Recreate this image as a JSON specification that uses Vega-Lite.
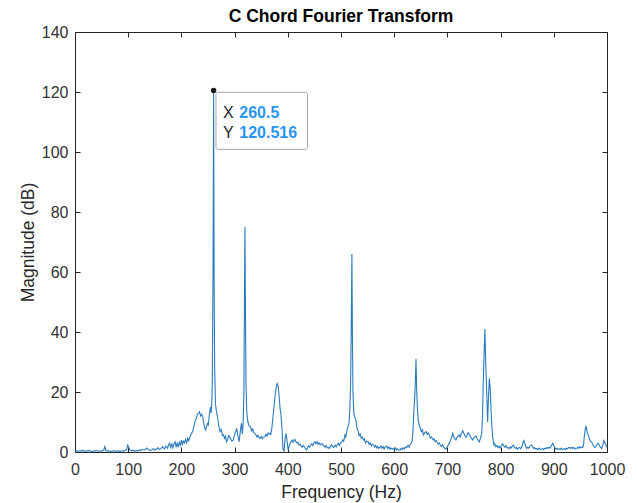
{
  "$schema": "https://vega.github.io/schema/vega-lite/v6.json",
  "width": 532,
  "height": 420,
  "autosize": "none",
  "padding": {"left": 75, "top": 32, "right": 30, "bottom": 51},
  "background": "white",
  "title": {"text": "C Chord Fourier Transform", "fontSize": 17.5, "fontWeight": "bold", "font": "Liberation Sans", "color": "#000000", "offset": -1},
  "config": {
    "view": {"stroke": "#262626", "strokeWidth": 1},
    "axis": {"domainColor": "#262626", "tickColor": "#262626", "labelColor": "#333333", "titleColor": "#262626", "labelFont": "Liberation Sans", "titleFont": "Liberation Sans", "labelFontSize": 16, "titleFontSize": 17.5, "titleFontWeight": "normal", "grid": false, "tickSize": -5, "labelFlush": false, "labelOverlap": false}
  },
  "datasets": {
    "fft": [
      {"f":0,"m":0.3},{"f":3,"m":0.5},{"f":6,"m":0.2},{"f":9,"m":0.4},{"f":12,"m":0.3},{"f":15,"m":0.6},{"f":18,"m":0.2},{"f":21,"m":0.4},{"f":24,"m":0.3},{"f":27,"m":0.5},{"f":30,"m":0.3},{"f":33,"m":0.2},{"f":36,"m":0.4},{"f":39,"m":0.3},{"f":42,"m":0.5},{"f":45,"m":0.2},{"f":48,"m":0.4},{"f":51,"m":0.3},{"f":54,"m":0.6},{"f":56,"m":1.8},{"f":58,"m":0.5},{"f":61,"m":0.3},{"f":64,"m":0.4},{"f":67,"m":0.2},{"f":70,"m":0.3},{"f":73,"m":0.5},{"f":76,"m":0.2},{"f":79,"m":0.4},{"f":82,"m":0.3},{"f":85,"m":0.2},{"f":88,"m":0.4},{"f":91,"m":0.3},{"f":94,"m":0.5},{"f":97,"m":0.8},{"f":99,"m":2.3},{"f":101,"m":1.6},{"f":103,"m":0.7},{"f":106,"m":0.4},{"f":109,"m":0.6},{"f":112,"m":0.3},{"f":115,"m":0.5},{"f":118,"m":0.4},{"f":121,"m":0.7},{"f":124,"m":0.5},{"f":127,"m":0.9},{"f":130,"m":0.6},{"f":133,"m":1.0},{"f":135,"m":1.3},{"f":138,"m":0.8},{"f":141,"m":0.5},{"f":144,"m":0.7},{"f":147,"m":1.1},{"f":150,"m":0.6},{"f":153,"m":1.0},{"f":156,"m":1.4},{"f":159,"m":0.8},{"f":162,"m":1.2},{"f":165,"m":1.8},{"f":168,"m":1.0},{"f":171,"m":2.0},{"f":174,"m":1.3},{"f":176,"m":2.4},{"f":178,"m":2.9},{"f":180,"m":1.5},{"f":182,"m":2.6},{"f":184,"m":1.4},{"f":186,"m":2.8},{"f":188,"m":3.4},{"f":190,"m":1.8},{"f":192,"m":2.9},{"f":194,"m":1.6},{"f":196,"m":3.2},{"f":198,"m":2.2},{"f":200,"m":4.0},{"f":202,"m":2.5},{"f":204,"m":3.6},{"f":206,"m":3.0},{"f":208,"m":4.2},{"f":210,"m":3.1},{"f":212,"m":4.6},{"f":214,"m":3.8},{"f":216,"m":5.0},{"f":218,"m":5.8},{"f":220,"m":6.5},{"f":222,"m":7.3},{"f":224,"m":9.0},{"f":226,"m":10.5},{"f":228,"m":11.2},{"f":230,"m":12.5},{"f":232,"m":13.0},{"f":234,"m":13.4},{"f":236,"m":12.0},{"f":238,"m":12.6},{"f":240,"m":11.8},{"f":242,"m":9.5},{"f":244,"m":8.0},{"f":245.5,"m":7.3},{"f":247,"m":8.2},{"f":249,"m":9.5},{"f":250.5,"m":9.0},{"f":252,"m":11.5},{"f":254,"m":14.2},{"f":255,"m":15.0},{"f":256,"m":13.0},{"f":257,"m":16},{"f":258,"m":22},{"f":259.5,"m":62},{"f":260.5,"m":120.516},{"f":261.5,"m":58},{"f":262.5,"m":28},{"f":264,"m":16},{"f":266,"m":13.4},{"f":268,"m":11.5},{"f":270,"m":9},{"f":272.5,"m":6.8},{"f":275,"m":7.5},{"f":277,"m":5.5},{"f":279,"m":5.7},{"f":281,"m":4.5},{"f":283,"m":5.3},{"f":285,"m":3.4},{"f":287,"m":4.2},{"f":289,"m":5.5},{"f":291,"m":5.0},{"f":293,"m":4.2},{"f":295,"m":3.6},{"f":297.5,"m":4.0},{"f":300,"m":5.8},{"f":302,"m":6.8},{"f":304,"m":7.9},{"f":306,"m":5.5},{"f":308.5,"m":3.4},{"f":310,"m":5.8},{"f":312,"m":8.5},{"f":313,"m":9.6},{"f":314.5,"m":6.0},{"f":316,"m":9.0},{"f":317.5,"m":20},{"f":318.5,"m":50},{"f":319.5,"m":75},{"f":320.5,"m":45},{"f":321.5,"m":22},{"f":323,"m":13},{"f":325,"m":10},{"f":327,"m":8.8},{"f":330,"m":8.4},{"f":332,"m":7.0},{"f":334,"m":7.6},{"f":336,"m":6.5},{"f":338,"m":6.2},{"f":340,"m":5.8},{"f":342,"m":5.0},{"f":344,"m":5.6},{"f":346,"m":4.8},{"f":348,"m":4.6},{"f":350,"m":5.2},{"f":352,"m":4.4},{"f":354,"m":5.0},{"f":357,"m":5.1},{"f":359,"m":5.9},{"f":361,"m":5.3},{"f":363,"m":6.4},{"f":365,"m":6.0},{"f":366.5,"m":6.2},{"f":368,"m":5.8},{"f":370,"m":8.0},{"f":372,"m":11.5},{"f":374,"m":15.0},{"f":376,"m":18.5},{"f":378,"m":21.5},{"f":380,"m":22.8},{"f":382,"m":21.8},{"f":384,"m":18.0},{"f":385.5,"m":14.5},{"f":387,"m":12.9},{"f":389,"m":8.0},{"f":391,"m":1.0},{"f":393,"m":0.3},{"f":395,"m":4.5},{"f":396.5,"m":6.2},{"f":398.5,"m":4.0},{"f":400.5,"m":0.7},{"f":402,"m":1.5},{"f":404,"m":2.6},{"f":406,"m":3.4},{"f":408,"m":4.0},{"f":410,"m":3.2},{"f":412,"m":3.8},{"f":413.5,"m":4.2},{"f":415,"m":3.5},{"f":417,"m":3.0},{"f":419,"m":3.3},{"f":421,"m":2.3},{"f":423,"m":2.6},{"f":425,"m":2.0},{"f":427,"m":1.6},{"f":429,"m":2.2},{"f":432,"m":1.5},{"f":434,"m":0.9},{"f":435.5,"m":0.7},{"f":437,"m":1.4},{"f":439,"m":2.0},{"f":441,"m":1.6},{"f":443,"m":2.3},{"f":445,"m":2.7},{"f":447,"m":2.2},{"f":449,"m":3.0},{"f":451,"m":3.4},{"f":453,"m":2.8},{"f":455,"m":3.4},{"f":457,"m":2.6},{"f":459,"m":3.0},{"f":461,"m":2.4},{"f":464,"m":2.9},{"f":466,"m":2.3},{"f":468,"m":2.0},{"f":470,"m":1.6},{"f":472,"m":2.2},{"f":474,"m":1.4},{"f":476,"m":1.5},{"f":478,"m":1.2},{"f":480,"m":1.8},{"f":482,"m":2.4},{"f":484,"m":1.9},{"f":486,"m":1.5},{"f":489,"m":2.3},{"f":491,"m":1.7},{"f":493,"m":2.4},{"f":495,"m":2.9},{"f":497,"m":2.2},{"f":499,"m":3.0},{"f":501,"m":3.1},{"f":503,"m":4.0},{"f":505,"m":3.6},{"f":507.5,"m":5.7},{"f":509,"m":5.0},{"f":511,"m":7.0},{"f":513.5,"m":8.8},{"f":515,"m":9.5},{"f":516.5,"m":14},{"f":518,"m":22},{"f":519.2,"m":40},{"f":520.5,"m":66},{"f":521.5,"m":38},{"f":522.5,"m":20},{"f":524,"m":13},{"f":526,"m":11.5},{"f":528,"m":10.7},{"f":530,"m":8.0},{"f":532.5,"m":6.8},{"f":534,"m":5.4},{"f":536,"m":6.0},{"f":538,"m":4.6},{"f":540,"m":5.0},{"f":542,"m":4.0},{"f":544,"m":4.4},{"f":546,"m":3.0},{"f":548,"m":3.6},{"f":551,"m":3.4},{"f":553,"m":2.5},{"f":555,"m":3.0},{"f":557,"m":2.1},{"f":559,"m":2.6},{"f":561,"m":2.3},{"f":563,"m":1.6},{"f":565,"m":2.2},{"f":567,"m":1.4},{"f":569,"m":1.9},{"f":571,"m":1.2},{"f":573,"m":1.5},{"f":575,"m":2.0},{"f":577,"m":1.3},{"f":579,"m":1.8},{"f":581,"m":1.0},{"f":583,"m":1.6},{"f":586,"m":2.0},{"f":588,"m":1.2},{"f":590,"m":1.7},{"f":592,"m":0.9},{"f":594,"m":1.4},{"f":596,"m":1.0},{"f":598,"m":1.2},{"f":600,"m":0.8},{"f":602,"m":1.3},{"f":604,"m":0.7},{"f":606,"m":1.1},{"f":608,"m":0.6},{"f":611,"m":0.7},{"f":613,"m":1.2},{"f":615,"m":0.8},{"f":617,"m":1.4},{"f":619,"m":1.0},{"f":621,"m":1.7},{"f":623.5,"m":1.5},{"f":626,"m":2.2},{"f":628,"m":1.6},{"f":630,"m":2.5},{"f":632,"m":3.0},{"f":633.5,"m":3.4},{"f":635,"m":6.0},{"f":637,"m":14},{"f":638.5,"m":18},{"f":639.5,"m":22},{"f":641,"m":31},{"f":642.2,"m":21},{"f":643.5,"m":15},{"f":645,"m":10.7},{"f":647,"m":9.0},{"f":649,"m":8.0},{"f":651,"m":6.8},{"f":653,"m":7.4},{"f":655,"m":5.7},{"f":657,"m":6.4},{"f":660,"m":6.8},{"f":662,"m":5.9},{"f":664,"m":6.4},{"f":666,"m":5.7},{"f":668,"m":4.6},{"f":670,"m":5.0},{"f":673.5,"m":4.0},{"f":675,"m":4.4},{"f":677,"m":3.4},{"f":679,"m":3.8},{"f":681,"m":3.1},{"f":683,"m":2.6},{"f":685,"m":3.0},{"f":687,"m":2.2},{"f":689,"m":1.8},{"f":691,"m":2.4},{"f":693,"m":1.6},{"f":695,"m":1.2},{"f":697,"m":0.9},{"f":699,"m":1.5},{"f":701,"m":2.2},{"f":703,"m":2.8},{"f":705,"m":3.4},{"f":707,"m":4.5},{"f":708.5,"m":5.2},{"f":710,"m":6.2},{"f":712,"m":5.0},{"f":714,"m":4.4},{"f":716,"m":4.0},{"f":718,"m":4.8},{"f":720,"m":5.4},{"f":722,"m":5.7},{"f":724,"m":5.0},{"f":726,"m":6.0},{"f":728,"m":6.8},{"f":729,"m":7.1},{"f":731,"m":6.2},{"f":733,"m":5.5},{"f":735,"m":4.9},{"f":737,"m":5.6},{"f":739,"m":6.4},{"f":741,"m":6.0},{"f":743,"m":5.2},{"f":745,"m":4.6},{"f":747.5,"m":4.0},{"f":749,"m":4.6},{"f":751,"m":5.0},{"f":754,"m":5.3},{"f":756,"m":4.4},{"f":758,"m":3.8},{"f":760,"m":3.4},{"f":762,"m":4.5},{"f":764.5,"m":6.2},{"f":766,"m":12},{"f":767.5,"m":24},{"f":769,"m":33},{"f":770.5,"m":41},{"f":772,"m":30},{"f":774,"m":19.6},{"f":775.6,"m":10},{"f":777,"m":17},{"f":778.8,"m":24.6},{"f":780.5,"m":21},{"f":782,"m":14},{"f":783.5,"m":9},{"f":785,"m":5},{"f":787.6,"m":2.3},{"f":789,"m":2.8},{"f":791,"m":1.8},{"f":793,"m":2.2},{"f":795,"m":1.5},{"f":797,"m":1.9},{"f":799,"m":1.3},{"f":801,"m":2.0},{"f":804,"m":2.7},{"f":806,"m":2.0},{"f":808,"m":1.6},{"f":810,"m":2.2},{"f":812,"m":1.4},{"f":814,"m":1.5},{"f":816,"m":1.1},{"f":818,"m":1.7},{"f":820,"m":1.3},{"f":822,"m":1.9},{"f":824,"m":2.3},{"f":826,"m":1.6},{"f":828,"m":1.2},{"f":830,"m":1.5},{"f":832,"m":1.0},{"f":834,"m":1.4},{"f":836,"m":1.5},{"f":838,"m":1.1},{"f":840,"m":1.8},{"f":842.7,"m":3.4},{"f":844,"m":3.8},{"f":846,"m":2.6},{"f":849,"m":1.2},{"f":851,"m":1.6},{"f":853,"m":1.3},{"f":855,"m":1.9},{"f":858.5,"m":2.3},{"f":860,"m":1.8},{"f":862,"m":1.2},{"f":864,"m":1.5},{"f":866,"m":1.0},{"f":868,"m":1.2},{"f":870,"m":0.8},{"f":872,"m":1.3},{"f":874,"m":1.0},{"f":877,"m":0.9},{"f":879,"m":1.2},{"f":881,"m":0.8},{"f":883,"m":1.3},{"f":885,"m":1.1},{"f":887,"m":1.5},{"f":889,"m":1.2},{"f":891,"m":1.6},{"f":893,"m":1.3},{"f":895,"m":1.9},{"f":898,"m":2.9},{"f":900,"m":2.2},{"f":902,"m":1.5},{"f":904,"m":1.0},{"f":906,"m":1.2},{"f":908,"m":0.8},{"f":910,"m":1.1},{"f":912,"m":0.9},{"f":914,"m":1.3},{"f":916,"m":0.8},{"f":918,"m":0.9},{"f":920,"m":1.2},{"f":922,"m":0.8},{"f":924,"m":1.3},{"f":926,"m":1.0},{"f":928,"m":1.5},{"f":930,"m":1.5},{"f":932,"m":1.1},{"f":934,"m":1.6},{"f":936,"m":1.2},{"f":938,"m":1.5},{"f":940,"m":1.0},{"f":943,"m":1.2},{"f":945,"m":1.6},{"f":947,"m":1.2},{"f":949,"m":1.8},{"f":951,"m":1.4},{"f":953,"m":1.7},{"f":954.5,"m":1.5},{"f":956,"m":2.5},{"f":957,"m":4.6},{"f":959,"m":7.5},{"f":960.5,"m":8.7},{"f":962,"m":7.2},{"f":963.5,"m":6.0},{"f":965,"m":5.7},{"f":967,"m":4.2},{"f":969,"m":3.6},{"f":971,"m":3.4},{"f":973,"m":2.6},{"f":975,"m":2.0},{"f":977.5,"m":1.5},{"f":979,"m":1.9},{"f":981,"m":2.4},{"f":983.6,"m":2.9},{"f":985,"m":2.4},{"f":987,"m":1.8},{"f":989,"m":1.4},{"f":990,"m":1.2},{"f":992,"m":2.2},{"f":994,"m":3.8},{"f":996,"m":3.2},{"f":998,"m":2.3},{"f":1000,"m":1.5}
    ],
    "tip": [{"f": 260.5, "m": 120.516}]
  },
  "layer": [
    {
      "data": {"name": "fft"},
      "mark": {"type": "line", "color": "#2b7bbf", "strokeWidth": 1.1},
      "encoding": {
        "x": {"field": "f", "type": "quantitative", "scale": {"domain": [0, 1000], "nice": false},
              "axis": {"orient": "bottom", "title": "Frequency (Hz)", "format": "d", "values": [0,100,200,300,400,500,600,700,800,900,1000], "labelPadding": 14, "titlePadding": 6}},
        "y": {"field": "m", "type": "quantitative", "scale": {"domain": [0, 140], "nice": false},
              "axis": {"orient": "left", "title": "Magnitude (dB)", "format": "d", "values": [0,20,40,60,80,100,120,140], "labelPadding": 12, "titlePadding": 4}}
      }
    },
    {
      "data": {"name": "tip"},
      "mark": {"type": "rect", "fill": "#ffffff", "fillOpacity": 0.92, "stroke": "#a6a6a6", "strokeWidth": 1, "cornerRadius": 2, "xOffset": 2.4, "x2Offset": 93.9, "yOffset": 1.9, "y2Offset": 58.9},
      "encoding": {
        "x": {"field": "f", "type": "quantitative", "axis": {"orient": "top", "labels": false, "title": null, "domain": false, "values": [0,100,200,300,400,500,600,700,800,900,1000]}},
        "x2": {"field": "f"},
        "y": {"field": "m", "type": "quantitative", "axis": {"orient": "right", "labels": false, "title": null, "domain": false, "values": [0,20,40,60,80,100,120,140]}},
        "y2": {"field": "m"}
      }
    },
    {
      "data": {"name": "tip"},
      "mark": {"type": "point", "filled": true, "shape": "circle", "size": 30, "color": "#1a1a1a", "opacity": 1},
      "encoding": {
        "x": {"field": "f", "type": "quantitative", "axis": null},
        "y": {"field": "m", "type": "quantitative", "axis": null}
      }
    },
    {
      "data": {"name": "tip"},
      "mark": {"type": "text", "text": "X", "align": "left", "baseline": "alphabetic", "dx": 9.4, "dy": 27.9, "font": "Liberation Sans", "fontSize": 16, "color": "#262626"},
      "encoding": {
        "x": {"field": "f", "type": "quantitative", "axis": null},
        "y": {"field": "m", "type": "quantitative", "axis": null}
      }
    },
    {
      "data": {"name": "tip"},
      "mark": {"type": "text", "text": "Y", "align": "left", "baseline": "alphabetic", "dx": 9.4, "dy": 47.9, "font": "Liberation Sans", "fontSize": 16, "color": "#262626"},
      "encoding": {
        "x": {"field": "f", "type": "quantitative", "axis": null},
        "y": {"field": "m", "type": "quantitative", "axis": null}
      }
    },
    {
      "data": {"name": "tip"},
      "mark": {"type": "text", "align": "left", "baseline": "alphabetic", "dx": 25.7, "dy": 27.9, "font": "Liberation Sans", "fontSize": 16, "fontWeight": "bold", "color": "#2a95ef"},
      "encoding": {
        "x": {"field": "f", "type": "quantitative", "axis": null},
        "y": {"field": "m", "type": "quantitative", "axis": null},
        "text": {"field": "f", "type": "quantitative", "format": ".1f"}
      }
    },
    {
      "data": {"name": "tip"},
      "mark": {"type": "text", "align": "left", "baseline": "alphabetic", "dx": 25.7, "dy": 47.9, "font": "Liberation Sans", "fontSize": 16, "fontWeight": "bold", "color": "#2a95ef"},
      "encoding": {
        "x": {"field": "f", "type": "quantitative", "axis": null},
        "y": {"field": "m", "type": "quantitative", "axis": null},
        "text": {"field": "m", "type": "quantitative", "format": ".3f"}
      }
    }
  ]
}
